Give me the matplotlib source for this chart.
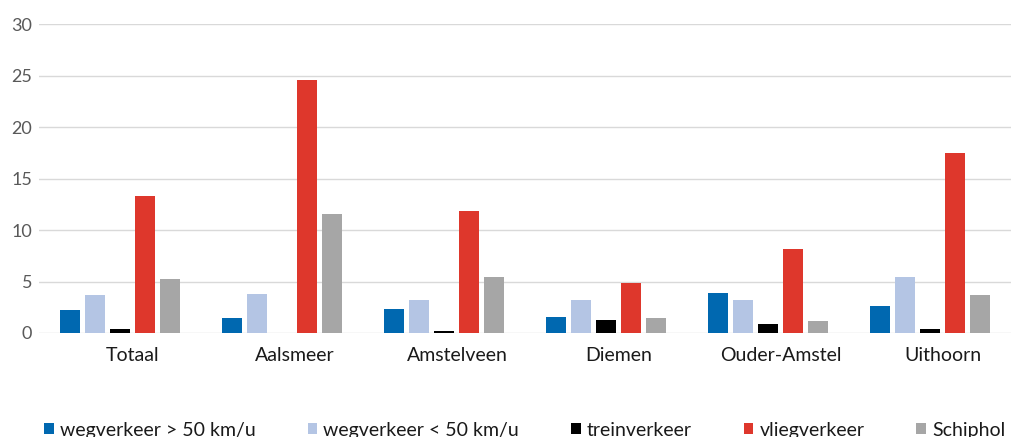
import numpy as np
import matplotlib
matplotlib.use("Agg")
from matplotlib import pyplot as plt
from matplotlib import transforms

plt.rcParams['font.family'] = ['Lato', 'DejaVu Sans']

categories = ["Totaal", "Aalsmeer", "Amstelveen", "Diemen", "Ouder-Amstel", "Uithoorn"]
series = ["wegverkeer > 50 km/u", "wegverkeer < 50 km/u", "treinverkeer", "vliegverkeer", "Schiphol"]
weg_hoog = [2.2, 1.5, 2.35, 1.6, 3.85, 2.65]
weg_laag = [3.65, 3.8, 3.25, 3.25, 3.25, 5.45]
trein = [0.4, 0.0, 0.22, 1.3, 0.85, 0.4]
vlieg = [13.3, 24.6, 11.85, 4.9, 8.15, 17.5]
schiphol = [5.2, 11.55, 5.45, 1.45, 1.15, 3.7]
colors = ["#0068b0", "#b4c5e4", "#000000", "#de372c", "#a6a6a6"]

values = [weg_hoog, weg_laag, trein, vlieg, schiphol]

fig = plt.figure(figsize=(10.15, 4.37), dpi=100)
ax = fig.add_axes([0.0384, 0.238, 0.9576, 0.707])

x = np.arange(len(categories))
pitch = 0.154
width = 0.123
for i, (vals, c, name) in enumerate(zip(values, colors, series)):
    ax.bar(x + (i - 2) * pitch, vals, width, color=c, label=name, zorder=3)

ax.set_xlim(-0.5, 5.5)
ax.set_ylim(0, 30)
ax.set_yticks(range(0, 31, 5))
ax.yaxis.grid(True, color="#d9d9d9", linewidth=1.0, zorder=0)
for s in ax.spines.values():
    s.set_visible(False)
ax.tick_params(axis="y", length=0, pad=5, labelsize=13, labelcolor="#595959")
ax.tick_params(axis="x", length=0, pad=10, labelsize=14, labelcolor="#1a1a1a")
ax.set_xticks(x)
ax.set_xticklabels(categories)
offset = transforms.ScaledTranslation(13 / 100, 0, fig.dpi_scale_trans)
for lab in ax.get_xticklabels():
    lab.set_transform(lab.get_transform() + offset)

fig.legend(loc="lower left", bbox_to_anchor=(0.036, -0.022, 0.962, 0.06), mode="expand",
           ncol=5, frameon=False, fontsize=14, handlelength=0.5, handleheight=0.5,
           handletextpad=0.3, borderaxespad=0, labelcolor="#1a1a1a")

fig.savefig("out.png", dpi=100)
